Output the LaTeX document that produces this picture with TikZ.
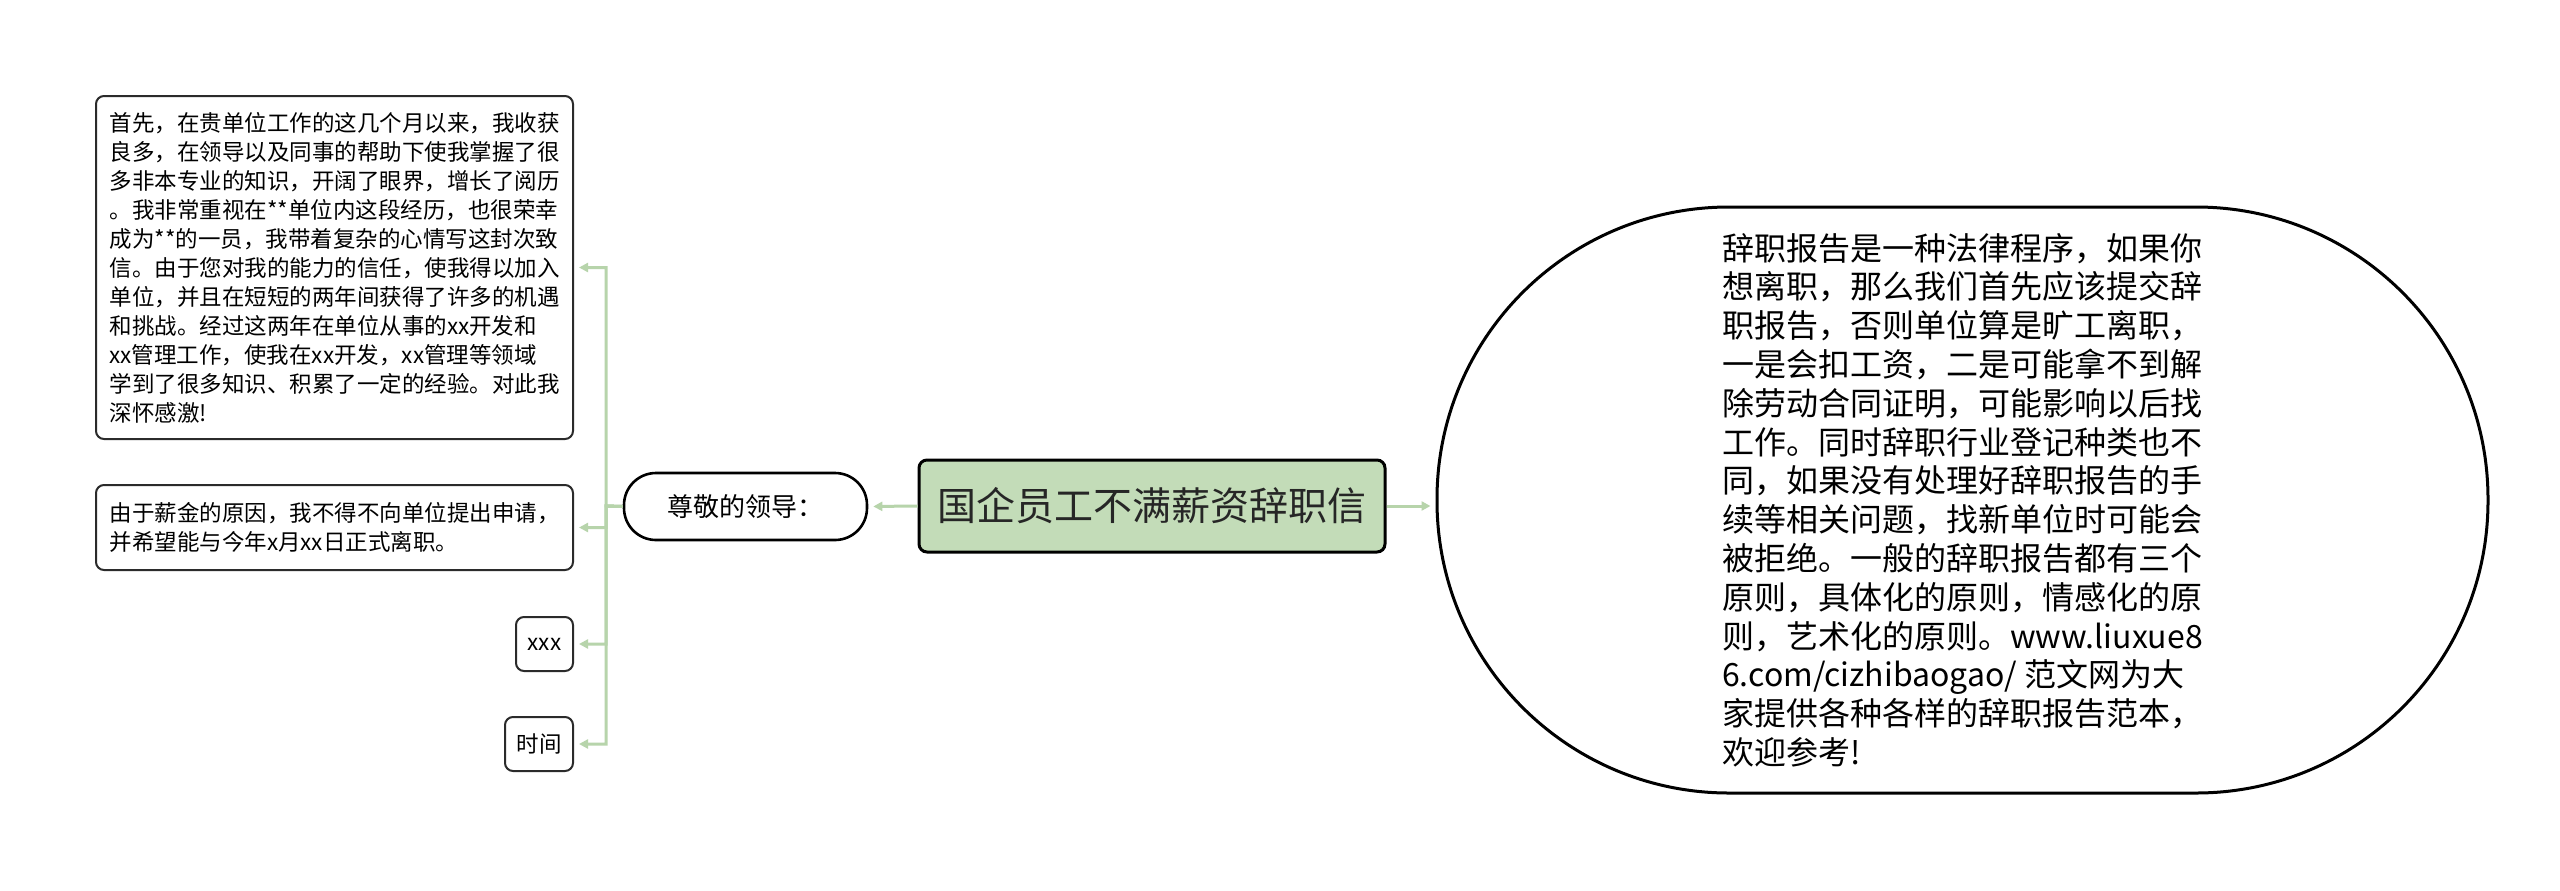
\documentclass[tikz,border=0pt]{standalone}
\usepackage{fontspec}
\setmainfont{Noto Sans CJK SC}
\usetikzlibrary{arrows.meta}
\definecolor{linkgreen}{HTML}{B7D4AB}
\definecolor{titlegreen}{HTML}{C3DCB8}
\definecolor{edgegray}{HTML}{2B2B2B}
\tikzset{
  leaf/.style={draw=edgegray, line width=1pt, rounded corners=4pt, fill=white,
    align=left, inner sep=0pt, font=\fontsize{11.25}{14.5}\selectfont},
  link/.style={draw=linkgreen, line width=1.5pt,
    -{Triangle[length=4.5pt,width=4.5pt]}, shorten >=2.5pt},
}
\begin{document}
\begin{tikzpicture}[x=0.5pt,y=-0.5pt]
    % Rahmen
    \fill[white] (0,0) rectangle (2560,890);
    \useasboundingbox (0,0) rectangle (2560,890);
    % Hauptthema
    \node[draw=black, line width=1.5pt, fill=titlegreen, rounded corners=4pt,
      minimum width=233pt, minimum height=46pt, inner sep=0pt,
      font=\fontsize{19.5}{24}\selectfont, text=black!85] (title) at (1152,506) {国企员工不满薪资辞职信};
    \node[draw=black, line width=1.3pt, fill=white, rounded corners=16pt,
      minimum width=121.5pt, minimum height=33.5pt, inner sep=0pt,
      font=\fontsize{13}{16}\selectfont] (lead) at (745.5,506.5) {尊敬的领导：};
    \node[draw=black, line width=1.5pt, fill=white, rounded corners=146pt,
      minimum width=525.5pt, minimum height=293pt, inner sep=0pt, align=left,
      font=\fontsize{16}{19.4}\selectfont] (note) at (1962.5,500) {%
      辞职报告是一种法律程序，如果你\\
      想离职，那么我们首先应该提交辞\\
      职报告，否则单位算是旷工离职，\\
      一是会扣工资，二是可能拿不到解\\
      除劳动合同证明，可能影响以后找\\
      工作。同时辞职行业登记种类也不\\
      同，如果没有处理好辞职报告的手\\
      续等相关问题，找新单位时可能会\\
      被拒绝。一般的辞职报告都有三个\\
      原则，具体化的原则，情感化的原\\
      则，艺术化的原则。www.liuxue8\\
      6.com/cizhibaogao/ 范文网为大\\
      家提供各种各样的辞职报告范本，\\
      欢迎参考!};
    % Blaetter
    \node[leaf, minimum width=238.5pt, minimum height=171.5pt] (b1) at (334.5,267.5) {%
      首先，在贵单位工作的这几个月以来，我收获\\
      良多，在领导以及同事的帮助下使我掌握了很\\
      多非本专业的知识，开阔了眼界，增长了阅历\\
      。我非常重视在**单位内这段经历，也很荣幸\\
      成为**的一员，我带着复杂的心情写这封次致\\
      信。由于您对我的能力的信任，使我得以加入\\
      单位，并且在短短的两年间获得了许多的机遇\\
      和挑战。经过这两年在单位从事的xx开发和\\
      xx管理工作，使我在xx开发，xx管理等领域\\
      学到了很多知识、积累了一定的经验。对此我\\
      深怀感激!};
    \node[leaf, minimum width=238.5pt, minimum height=42.5pt] (b2) at (334.5,527.5) {%
      由于薪金的原因，我不得不向单位提出申请，\\
      并希望能与今年x月xx日正式离职。};
    \node[leaf, minimum width=28.5pt, minimum height=27pt, align=center] (b3) at (544.5,644) {xxx};
    \node[leaf, minimum width=34pt, minimum height=27pt, align=center] (b4) at (539,744) {时间};
    % Verbindungen
    \coordinate (fork) at (606,506);
    \draw[link] (title.west) -- (lead.east);
    \draw[link] (title.east) -- (title.east -| note.west);
    \foreach \leafname in {b1,b2,b3,b4}
      \draw[link] (lead.west) -- (fork) |- (\leafname.east);
\end{tikzpicture}
\end{document}
